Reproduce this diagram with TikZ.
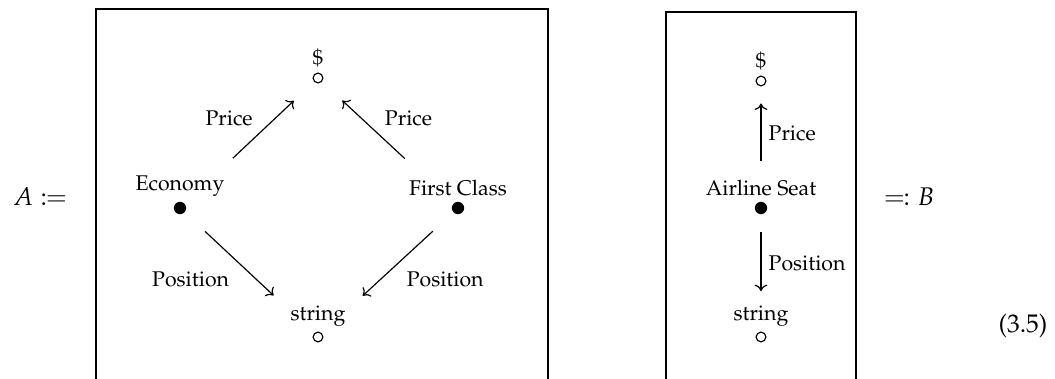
\documentclass[tikz,border=0pt]{standalone}
\usepackage[T1]{fontenc}
\usepackage{mathpazo}
\usepackage{mathtools}
\usetikzlibrary{arrows.meta}
\tikzset{
  obj/.style={circle,fill,inner sep=0pt,minimum size=5.8pt},
  val/.style={circle,draw,fill=white,inner sep=0pt,minimum size=4.6pt,line width=0.55pt},
  arr/.style={-{Computer Modern Rightarrow[length=3pt,width=6pt]},line width=0.55pt},
  lbl/.style={label distance=-1pt},
}
\begin{document}
\begin{tikzpicture}[x=0.47pt,y=-0.47pt]
  \useasboundingbox (0,0) rectangle (1055,379);
  \draw[line width=0.55pt] (96,379) |- (548,9) -- (548,379);
  \draw[line width=0.55pt] (666,379) |- (856,12) -- (856,379);

  \node[font=\large] (defA) at (40,197) {$A \coloneqq$};
  \node[font=\large] (defB) at (909,197) {$\eqqcolon B$};
  \node[font=\large] (eqno) at (1023,326) {(3.5)};

  % left picture
  \node[val,label={[lbl]above:\$}] (usdA) at (318,78) {};
  \node[val,label={[lbl]above:string}] (strA) at (318,337) {};
  \node[obj,label={[lbl]above:Economy}] (econ) at (180,208) {};
  \node[obj,label={[lbl]above:First Class}] (first) at (458,208) {};

  \draw[arr,shorten <=31pt,shorten >=13pt] (econ) -- (usdA)
    node[pos=0.7,left=7pt] {Price};
  \draw[arr,shorten <=31pt,shorten >=13pt] (first) -- (usdA)
    node[pos=0.7,right=7.5pt] {Price};
  \draw[arr,shorten <=13pt,shorten >=26pt] (econ) -- (strA)
    node[pos=0.55,left=9pt] {Position};
  \draw[arr,shorten <=13pt,shorten >=26pt] (first) -- (strA)
    node[pos=0.55,right=8.5pt] {Position};

  % right picture
  \node[val,label={[lbl]above:\$}] (usdB) at (761,81) {};
  \node[val,label={[lbl]above:string}] (strB) at (761,337) {};
  \node[obj,label={[lbl]above:Airline Seat}] (seat) at (761,208) {};

  \draw[arr,shorten <=19pt,shorten >=8pt] (seat) -- (usdB)
    node[pos=0.59,right=0pt] {Price};
  \draw[arr,shorten <=8pt,shorten >=19pt] (seat) -- (strB)
    node[pos=0.42,right=0pt] {Position};
\end{tikzpicture}
\end{document}
